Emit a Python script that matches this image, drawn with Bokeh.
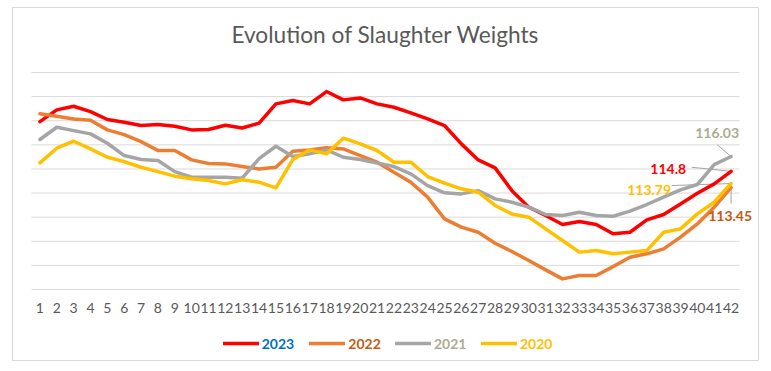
from bokeh.plotting import figure
from bokeh.models import Legend, LegendItem, Label, FixedTicker, Range1d
from bokeh.embed import file_html
from bokeh.resources import INLINE

# ---- data ----
weeks = list(range(1, 43))
tick_labels = [str(w) for w in weeks]
years = ["2023", "2022", "2021", "2020"]
grid_vals = list(range(105, 124, 2))

w2023 = [118.93, 119.90, 120.20, 119.76, 119.10, 118.87, 118.60, 118.68, 118.54, 118.24,
         118.27, 118.63, 118.40, 118.80, 120.40, 120.67, 120.40, 121.42, 120.73, 120.89,
         120.40, 120.12, 119.65, 119.15, 118.60, 117.08, 115.75, 115.09, 113.20, 111.83,
         111.14, 110.39, 110.64, 110.39, 109.62, 109.75, 110.78, 111.22, 112.10, 112.99,
         113.76, 114.80]
w2022 = [119.57, 119.37, 119.15, 119.04, 118.24, 117.85, 117.27, 116.53, 116.53, 115.75,
         115.45, 115.42, 115.20, 115.00, 115.14, 116.47, 116.58, 116.75, 116.66, 116.11,
         115.56, 114.73, 113.90, 112.66, 110.86, 110.17, 109.75, 108.84, 108.15, 107.40,
         106.63, 105.88, 106.16, 106.16, 106.90, 107.68, 107.96, 108.37, 109.34, 110.44,
         111.83, 113.45]
w2021 = [117.44, 118.46, 118.18, 117.91, 117.13, 116.11, 115.78, 115.70, 114.78, 114.31,
         114.31, 114.31, 114.23, 115.85, 116.88, 116.03, 116.25, 116.58, 115.97, 115.78,
         115.50, 115.20, 114.59, 113.62, 113.02, 112.93, 113.20, 112.52, 112.24, 111.83,
         111.22, 111.14, 111.41, 111.14, 111.08, 111.50, 112.05, 112.66, 113.26, 113.71,
         115.36, 116.03]
w2020 = [115.50, 116.72, 117.30, 116.66, 115.97, 115.61, 115.14, 114.78, 114.40, 114.18,
         114.04, 113.76, 114.10, 113.90, 113.43, 115.78, 116.58, 116.25, 117.55, 117.08,
         116.53, 115.56, 115.56, 114.37, 113.82, 113.35, 113.07, 111.97, 111.27, 111.00,
         110.03, 109.06, 108.10, 108.23, 107.96, 108.10, 108.23, 109.75, 110.03, 111.27,
         112.24, 113.79]
series = [w2023, w2022, w2021, w2020]

# ---- styles / geometry (pixels) ----
FONT = "Lato"
line_colors = ["#FF0000", "#ED7D31", "#A5A5A5", "#FFC000"]
text_colors = ["#0070C0", "#C55A11", "#AEAB91", "#FFC000"]
end_colors = ["#FF0000", "#C55A11", "#AEAB91", "#FFC000"]
W, H = 763, 363
BOX_L, BOX_T, BOX_R, BOX_B = 12, 7, 758, 360          # outer chart border
PLOT_L, PLOT_T, PLOT_R, PLOT_B = 31, 72, 739, 289      # gridline area
y_lo, y_hi = grid_vals[0], grid_vals[-1]
x_lo, x_hi = weeks[0] - 0.5, weeks[-1] + 0.5
PX_X = (PLOT_R - PLOT_L) / (x_hi - x_lo)
PX_Y = (PLOT_B - PLOT_T) / (y_hi - y_lo)
x_range = Range1d(x_lo - (PLOT_L - BOX_L) / PX_X, x_hi + (BOX_R - PLOT_R) / PX_X)
y_range = Range1d(y_lo - (BOX_B - PLOT_B) / PX_Y, y_hi + (PLOT_T - BOX_T) / PX_Y)

p = figure(width=W, height=H, output_backend="svg", toolbar_location=None,
           x_range=x_range, y_range=y_range, y_axis_location=None,
           min_border_left=BOX_L, min_border_right=W - BOX_R,
           min_border_top=BOX_T, min_border_bottom=H - BOX_B)
p.outline_line_color = "#D9D9D9"
p.outline_line_width = 1
p.background_fill_color = "white"
p.border_fill_color = "white"
p.xgrid.visible = False
p.ygrid.visible = False

# x axis drawn inside the frame at the bottom gridline
p.xaxis.fixed_location = y_lo
p.xaxis.ticker = FixedTicker(ticks=weeks)
p.xaxis.major_label_overrides = {w: l for w, l in zip(weeks, tick_labels)}
p.xaxis.axis_line_color = None
p.xaxis.major_tick_line_color = None
p.xaxis.minor_tick_line_color = None
p.xaxis.major_tick_out = 0
p.xaxis.major_tick_in = 0
p.xaxis.major_label_standoff = 13
p.xaxis.major_label_text_font = FONT
p.xaxis.major_label_text_font_size = "14px"
p.xaxis.major_label_text_color = "#595959"

# horizontal gridlines spanning the category area
p.segment(x0=[x_lo] * len(grid_vals), x1=[x_hi] * len(grid_vals),
          y0=grid_vals, y1=grid_vals, line_color="#D9D9D9", line_width=1)

# title
p.add_layout(Label(x=(x_lo + x_hi) / 2, y=y_hi, y_offset=PLOT_T - 34,
                   text="Evolution of Slaughter Weights", text_align="center",
                   text_baseline="middle", text_font=FONT, text_font_size="22.7px",
                   text_color="#595959"))

# leader lines for end labels (offsets in px from final point)
leaders = [(-39.3, 4.1), (0.0, -16.0), (-13.7, 11.7), (-59.3, -2.0)]
for vals, (dx, dy) in zip(series, leaders):
    p.segment(x0=[weeks[-1] + dx / PX_X], y0=[vals[-1] + dy / PX_Y],
              x1=[weeks[-1]], y1=[vals[-1]], line_color="#A5A5A5", line_width=1)

renderers = []
for vals, c in zip(series, line_colors):
    r = p.line(weeks, vals, line_color=c, line_width=3.5, line_join="round", line_cap="round")
    renderers.append(r)

# legends (one per year so each label has its own colour)
legend_x = [210.7, 297.3, 383.0, 469.0]
for name, r, tc, lx in zip(years, renderers, text_colors, legend_x):
    lg = Legend(items=[LegendItem(label=name, renderers=[r])], location=(lx, 8.5),
                orientation="horizontal", glyph_width=36, glyph_height=16,
                label_height=16, label_standoff=3, padding=0, margin=0,
                border_line_color=None, background_fill_alpha=0,
                label_text_font=FONT, label_text_font_size="14px",
                label_text_font_style="bold", label_text_color=tc)
    p.add_layout(lg, "center")

# end-of-series value labels
end_offsets = [(-45, 2), (21, -28), (8, 23.5), (-60, -6.5)]
for vals, c, (ox, oy) in zip(series, end_colors, end_offsets):
    p.add_layout(Label(x=weeks[-1], y=vals[-1], text=f"{vals[-1]:g}",
                       x_offset=ox, y_offset=oy, text_align="right",
                       text_baseline="middle", text_font=FONT,
                       text_font_size="14px", text_font_style="bold",
                       text_color=c))

open("out.html", "w").write(file_html(p, INLINE))
